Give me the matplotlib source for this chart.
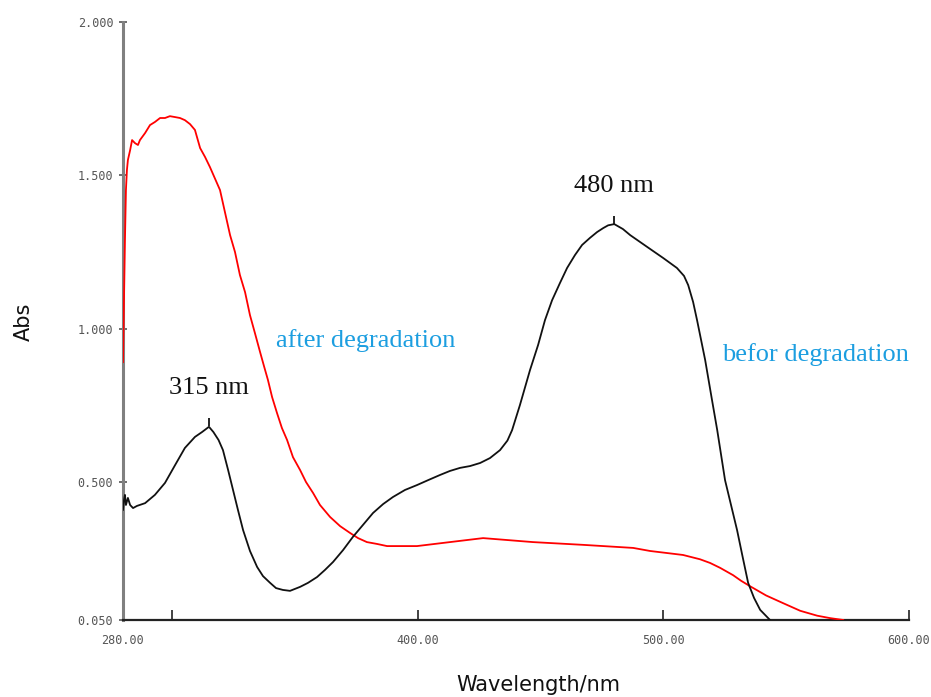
import matplotlib
matplotlib.use('Agg')
import matplotlib.pyplot as plt

# UV-Vis absorbance spectra
wl_before = [280.0, 280.4, 280.8, 281.2, 282.0, 282.9, 284.1, 285.7, 289.0, 293.0,
             297.1, 301.2, 305.2, 309.3, 312.2, 315.0, 316.8, 318.9, 320.7, 322.8,
             324.8, 326.8, 328.9, 331.7, 334.6, 337.0, 339.9, 342.3, 345.1, 348.0,
             352.1, 355.3, 359.0, 362.2, 365.5, 369.6, 373.6, 377.7, 381.8, 385.9,
             389.9, 394.8, 399.7, 404.2, 409.1, 413.1, 417.2, 421.3, 425.4, 429.4,
             433.5, 436.5, 438.4, 441.6, 445.7, 449.0, 451.8, 454.7, 457.9, 460.8,
             464.0, 466.9, 470.1, 473.0, 475.5, 477.5, 480.0, 483.5, 486.5, 493.5,
             500.0, 505.5, 508.4, 510.1, 512.1, 513.7, 517.0, 519.8, 521.9, 525.1,
             530.0, 532.1, 534.5, 536.9, 539.4, 543.4]
abs_before = [0.409, 0.441, 0.458, 0.425, 0.448, 0.425, 0.415, 0.422, 0.431, 0.458,
              0.497, 0.555, 0.611, 0.647, 0.663, 0.680, 0.663, 0.637, 0.604, 0.539,
              0.474, 0.409, 0.343, 0.275, 0.223, 0.193, 0.171, 0.154, 0.148, 0.145,
              0.158, 0.171, 0.190, 0.213, 0.239, 0.278, 0.321, 0.360, 0.399, 0.428,
              0.451, 0.474, 0.490, 0.506, 0.523, 0.536, 0.546, 0.552, 0.562, 0.578,
              0.604, 0.635, 0.669, 0.751, 0.865, 0.947, 1.028, 1.093, 1.149, 1.198,
              1.240, 1.273, 1.296, 1.315, 1.328, 1.337, 1.341, 1.325, 1.305, 1.266,
              1.230, 1.198, 1.172, 1.142, 1.087, 1.028, 0.898, 0.767, 0.670, 0.506,
              0.343, 0.262, 0.171, 0.122, 0.083, 0.050]

wl_after = [280.0, 280.4, 280.8, 281.2, 281.6, 282.0, 282.9, 283.7, 284.9, 286.1,
            286.9, 289.0, 291.0, 293.0, 295.1, 297.1, 299.1, 301.2, 303.2, 305.2,
            307.3, 309.3, 311.4, 313.4, 315.4, 319.5, 323.6, 325.6, 327.6, 329.7,
            331.7, 333.7, 335.8, 337.4, 339.0, 340.7, 342.7, 344.7, 346.8, 349.2,
            352.1, 354.5, 357.4, 360.2, 364.3, 368.4, 372.4, 375.7, 379.3, 383.4,
            387.5, 399.7, 413.1, 426.6, 446.9, 467.3, 487.7, 494.6, 508.0, 514.9,
            519.0, 523.1, 528.4, 531.6, 535.3, 541.8, 548.7, 555.7, 562.6, 567.9,
            573.2]
abs_after = [0.891, 1.093, 1.289, 1.452, 1.517, 1.550, 1.582, 1.615, 1.605, 1.599,
             1.615, 1.638, 1.664, 1.674, 1.687, 1.687, 1.693, 1.690, 1.687, 1.680,
             1.667, 1.648, 1.589, 1.560, 1.527, 1.452, 1.305, 1.250, 1.175, 1.119,
             1.044, 0.986, 0.924, 0.878, 0.833, 0.777, 0.725, 0.676, 0.637, 0.581,
             0.539, 0.500, 0.464, 0.425, 0.386, 0.356, 0.334, 0.317, 0.304, 0.298,
             0.291, 0.291, 0.304, 0.317, 0.304, 0.295, 0.285, 0.275, 0.262, 0.248,
             0.236, 0.220, 0.196, 0.178, 0.160, 0.130, 0.105, 0.080, 0.064, 0.056,
             0.050]

peak_wl = [315.0, 480.0]
peak_abs = [0.680, 1.341]
peak_labels = ['315 nm', '480 nm']

x_ticks = [280, 300, 400, 500, 600]
x_ticklabels = ['280.00', '', '400.00', '500.00', '600.00']
y_ticks = [0.05, 0.5, 1.0, 1.5, 2.0]
y_ticklabels = ['0.050', '0.500', '1.000', '1.500', '2.000']

fig = plt.figure(figsize=(9.31, 6.97), dpi=100, facecolor='white')
ax = fig.add_axes([0.1321, 0.1105, 0.8443, 0.8579])

ax.plot(wl_after, abs_after, color='#ff0000', lw=1.3, zorder=3,
        solid_joinstyle='round')
ax.plot(wl_before, abs_before, color='#111111', lw=1.3, zorder=4,
        solid_joinstyle='round')
# small peak-pick markers above each maximum
ax.plot(peak_wl, [a + 0.015 for a in peak_abs], '|', color='#111111',
        markersize=6, mew=1.3, zorder=5)

serif = 'Liberation Serif'
for w, a, lab in zip(peak_wl, peak_abs, peak_labels):
    ax.text(w, a + 0.125, lab, ha='center', va='center', fontsize=19,
            family=serif, color='#111111')

ax.text(342.3, 0.963, 'after degradation', ha='left', va='center',
        fontsize=19, family=serif, color='#1c9ee0')
ax.text(523.9, 0.917, 'befor degradation', ha='left', va='center',
        fontsize=19, family=serif, color='#1c9ee0')

ax.set_xlim(280, 600)
ax.set_ylim(0.05, 2.0)
ax.set_xticks(x_ticks)
ax.set_xticklabels(x_ticklabels, family='DejaVu Sans Mono', fontsize=8.5,
                   color='#555555')
ax.set_yticks(y_ticks)
ax.set_yticklabels(y_ticklabels, family='DejaVu Sans Mono', fontsize=8.5,
                   color='#555555')
ax.tick_params(axis='x', direction='in', length=7, width=1.2, color='#222222', pad=10)
ax.tick_params(axis='y', direction='inout', length=6, width=1.2, color='#555555', pad=4)

for side in ('top', 'right'):
    ax.spines[side].set_visible(False)
ax.spines['left'].set_color('#808080')
ax.spines['left'].set_linewidth(2.2)
ax.spines['bottom'].set_color('#222222')
ax.spines['bottom'].set_linewidth(1.6)

fig.text(0.026, 0.538, 'Abs', rotation=90, ha='center', va='center',
         fontsize=15, color='#111111')
fig.text(0.578, 0.017, 'Wavelength/nm', ha='center', va='center',
         fontsize=15, color='#111111')

fig.savefig('out.png', dpi=100, facecolor='white')
